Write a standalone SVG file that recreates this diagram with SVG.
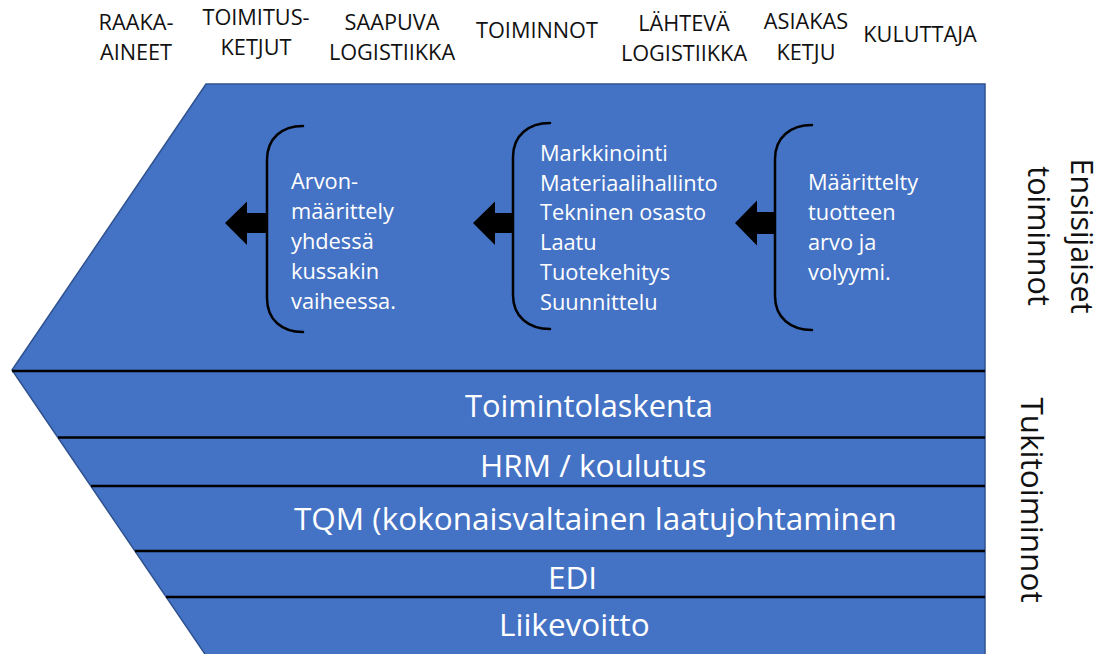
<svg xmlns="http://www.w3.org/2000/svg" width="1105" height="654" viewBox="0 0 1105 654">
  <style>
    .hdr { font-family: "Open Sans", "Liberation Sans", sans-serif; font-size: 21.7px; fill: #111; text-anchor: middle; }
    .body { font-family: "Open Sans", "Liberation Sans", sans-serif; font-size: 21.8px; fill: #fff; }
    .band { font-family: "Open Sans", "Liberation Sans", sans-serif; font-size: 31.5px; fill: #fff; }
    .side { font-family: "Open Sans", "Liberation Sans", sans-serif; font-size: 30.5px; fill: #111; text-anchor: middle; }
    .rule { stroke: #000; stroke-width: 2.5; }
    .brace { fill: none; stroke: #000; stroke-width: 2.5; stroke-linecap: round; }
    .arrow { fill: #000; }
  </style>

  <!-- value chain stage headings -->
  <g id="headings">
    <text class="hdr" x="136" y="30">RAAKA-</text>
    <text class="hdr" x="136" y="60">AINEET</text>
    <text class="hdr" x="256" y="25">TOIMITUS-</text>
    <text class="hdr" x="256" y="55">KETJUT</text>
    <text class="hdr" x="392" y="30">SAAPUVA</text>
    <text class="hdr" x="392" y="60">LOGISTIIKKA</text>
    <text class="hdr" x="537" y="38">TOIMINNOT</text>
    <text class="hdr" x="684" y="31">LÄHTEVÄ</text>
    <text class="hdr" x="684" y="61">LOGISTIIKKA</text>
    <text class="hdr" x="806" y="29">ASIAKAS</text>
    <text class="hdr" x="806" y="60">KETJU</text>
    <text class="hdr" x="920" y="42">KULUTTAJA</text>
  </g>

  <!-- chevron body -->
  <g id="chevron">
    <polygon points="206,84 985,84 985,660 209,660 12,370" fill="#4472C4" stroke="#2F528F" stroke-width="1.5"/>
    <line class="rule" x1="12" y1="371" x2="985" y2="371"/>
    <line class="rule" x1="58" y1="437.5" x2="985" y2="437.5"/>
    <line class="rule" x1="91" y1="486" x2="985" y2="486"/>
    <line class="rule" x1="135" y1="551" x2="985" y2="551"/>
    <line class="rule" x1="166" y1="597" x2="985" y2="597"/>
  </g>

  <!-- primary activity blocks -->
  <g id="block-value">
    <path class="brace" d="M303,126 C282,126 267,138 267,160 V298 C267,320 282,332 303,332"/>
    <text class="body" x="291" y="189">Arvon-</text>
    <text class="body" x="291" y="219">määrittely</text>
    <text class="body" x="291" y="249">yhdessä</text>
    <text class="body" x="291" y="279">kussakin</text>
    <text class="body" x="291" y="309">vaiheessa.</text>
  </g>

  <g id="block-functions">
    <path class="brace" d="M550,123 C529,123 513,135 513,157 V295 C513,317 529,329 550,329"/>
    <text class="body" x="540" y="161">Markkinointi</text>
    <text class="body" x="540" y="191">Materiaalihallinto</text>
    <text class="body" x="540" y="220">Tekninen osasto</text>
    <text class="body" x="540" y="250">Laatu</text>
    <text class="body" x="540" y="280">Tuotekehitys</text>
    <text class="body" x="540" y="310">Suunnittelu</text>
  </g>

  <g id="block-product">
    <path class="brace" d="M812,125 C791,125 775,137 775,159 V296 C775,318 791,330 812,330"/>
    <text class="body" x="808" y="190">Määrittelty</text>
    <text class="body" x="808" y="220">tuotteen</text>
    <text class="body" x="808" y="250">arvo ja</text>
    <text class="body" x="808" y="280">volyymi.</text>
  </g>

  <!-- support activity bands -->
  <g id="band-costing"><text class="band" x="465" y="417" style="font-size:30.8px">Toimintolaskenta</text></g>
  <g id="band-hrm"><text class="band" x="480" y="477">HRM / koulutus</text></g>
  <g id="band-tqm"><text class="band" x="294" y="530">TQM (kokonaisvaltainen laatujohtaminen</text></g>
  <g id="band-edi"><text class="band" x="548" y="589">EDI</text></g>
  <g id="band-profit"><text class="band" x="499" y="636">Liikevoitto</text></g>

  <!-- side captions -->
  <g id="caption-primary">
    <text class="side" transform="translate(1071,236) rotate(90)">Ensisijaiset</text>
    <text class="side" transform="translate(1028,236) rotate(90)">toiminnot</text>
  </g>
  <g id="caption-support">
    <text class="side" transform="translate(1021,500) rotate(90)" style="font-size:31.5px">Tukitoiminnot</text>
  </g>

  <!-- flow arrows between blocks -->
  <g id="connectors">
    <polygon class="arrow" points="225,223 247,201.5 247,213 268,213 268,233 247,233 247,245"/>
    <polygon class="arrow" points="473,223 495,201.5 495,213 514,213 514,233 495,233 495,245"/>
    <polygon class="arrow" points="735,223 757,200.5 757,212 776,212 776,234 757,234 757,245.5"/>
  </g>
</svg>
